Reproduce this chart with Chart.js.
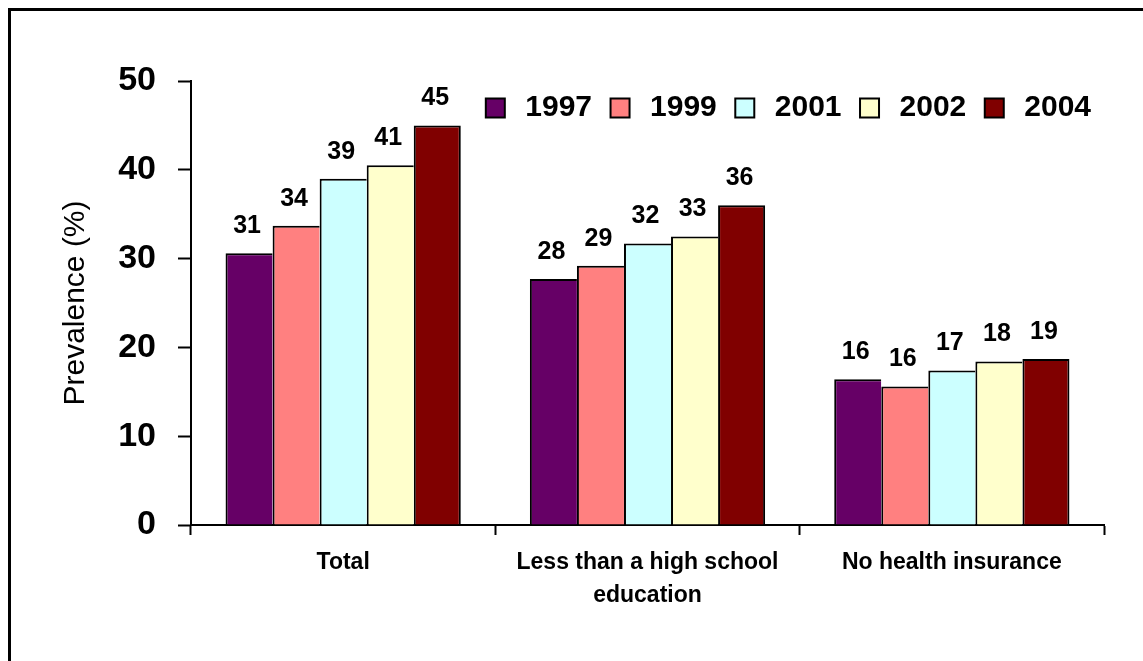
<!DOCTYPE html>
<html>
<head>
<meta charset="utf-8">
<script src="https://cdn.jsdelivr.net/npm/chart.js@4.4.1/dist/chart.umd.min.js"></script>
<style>
    html, body { margin: 0; padding: 0; background: #fff; overflow: hidden; }
    #wrap { position: relative; width: 1143px; height: 661px; }
    #frame {
        position: absolute; left: 8px; top: 8px; width: 1200px; height: 700px;
        border-top: 3px solid #000; border-left: 3px solid #000; pointer-events: none;
    }
    canvas { position: absolute; left: 0; top: 0; }
</style>
</head>
<body>
<div id="wrap">
    <canvas id="chart" width="1143" height="661"></canvas>
    <div id="frame"></div>
</div>
<script>
const categories = ['Total', ['Less than a high school', 'education'], 'No health insurance'];
const years = ['1997', '1999', '2001', '2002', '2004'];
const values1997 = [30.6, 27.7, 16.4];
const values1999 = [33.7, 29.2, 15.6];
const values2001 = [39.0, 31.7, 17.4];
const values2002 = [40.5, 32.5, 18.4];
const values2004 = [45.0, 36.0, 18.7];
const yearColors = ['#660066', '#FF8080', '#CCFFFF', '#FFFFCC', '#800000'];

const FONT = 'Arial, "Liberation Sans", sans-serif';
const seriesValues = [values1997, values1999, values2001, values2002, values2004];

const datasets = years.map((year, i) => ({
    label: year,
    data: seriesValues[i],
    backgroundColor: yearColors[i],
    borderColor: '#000',
    borderWidth: { left: 2, top: 2, right: i === years.length - 1 ? 2 : 0, bottom: 0 },
    borderSkipped: 'start',
    categoryPercentage: 0.773,
    barPercentage: 1.0
}));

// numbers above each bar
const barValueLabels = {
    id: 'barValueLabels',
    afterDatasetsDraw(chart) {
        const ctx = chart.ctx;
        ctx.save();
        ctx.font = 'bold 25px ' + FONT;
        ctx.fillStyle = '#000';
        ctx.textAlign = 'center';
        ctx.textBaseline = 'middle';
        chart.data.datasets.forEach((ds, i) => {
            chart.getDatasetMeta(i).data.forEach((bar, j) => {
                ctx.fillText(Math.round(ds.data[j]), bar.x - 2, bar.y - 27);
            });
        });
        ctx.restore();
    }
};

// the legend sits inside the plot, so push it down after layout
const legendDown = {
    id: 'legendDown',
    afterLayout(chart) {
        if (chart.legend) {
            chart.legend.top += 52;
            chart.legend.bottom += 52;
        }
    }
};

new Chart(document.getElementById('chart'), {
    type: 'bar',
    data: { labels: categories, datasets: datasets },
    plugins: [barValueLabels, legendDown],
    options: {
        responsive: false,
        animation: false,
        layout: { padding: { top: 28, right: 39, left: 0, bottom: 0 } },
        plugins: {
            tooltip: { enabled: false },
            legend: {
                position: 'top',
                align: 'end',
                labels: {
                    usePointStyle: true,
                    pointStyle: 'rect',
                    boxWidth: 30,
                    boxHeight: 19,
                    padding: 13,
                    color: '#000',
                    font: { family: FONT, size: 30, weight: 'bold' },
                    generateLabels(chart) {
                        const items = Chart.defaults.plugins.legend.labels.generateLabels(chart);
                        items.forEach(it => { it.lineWidth = 2; it.strokeStyle = '#000'; });
                        return items;
                    }
                }
            }
        },
        scales: {
            x: {
                afterFit(scale) { scale.height = 136; },
                grid: {
                    offset: true,
                    drawOnChartArea: false,
                    drawTicks: true,
                    tickLength: 10,
                    tickColor: '#000',
                    tickWidth: 2
                },
                border: { display: true, color: '#000', width: 2 },
                ticks: {
                    color: '#000',
                    padding: 12,
                    maxRotation: 0,
                    autoSkip: false,
                    font: { family: FONT, size: 23, weight: 'bold', lineHeight: 1.4 }
                }
            },
            y: {
                min: 0,
                max: 50,
                afterFit(scale) { scale.width = 191; },
                grid: {
                    drawOnChartArea: false,
                    drawTicks: true,
                    tickLength: 13,
                    tickColor: '#000',
                    tickWidth: 2
                },
                border: { display: true, color: '#000', width: 2 },
                ticks: {
                    stepSize: 10,
                    color: '#000',
                    padding: 22,
                    font: { family: FONT, size: 34, weight: 'bold' }
                },
                title: {
                    display: true,
                    text: 'Prevalence (%)',
                    color: '#000',
                    padding: { top: 58, bottom: 0 },
                    font: { family: FONT, size: 30, weight: 'normal', lineHeight: 1.2 }
                }
            }
        }
    }
});
</script>
</body>
</html>
